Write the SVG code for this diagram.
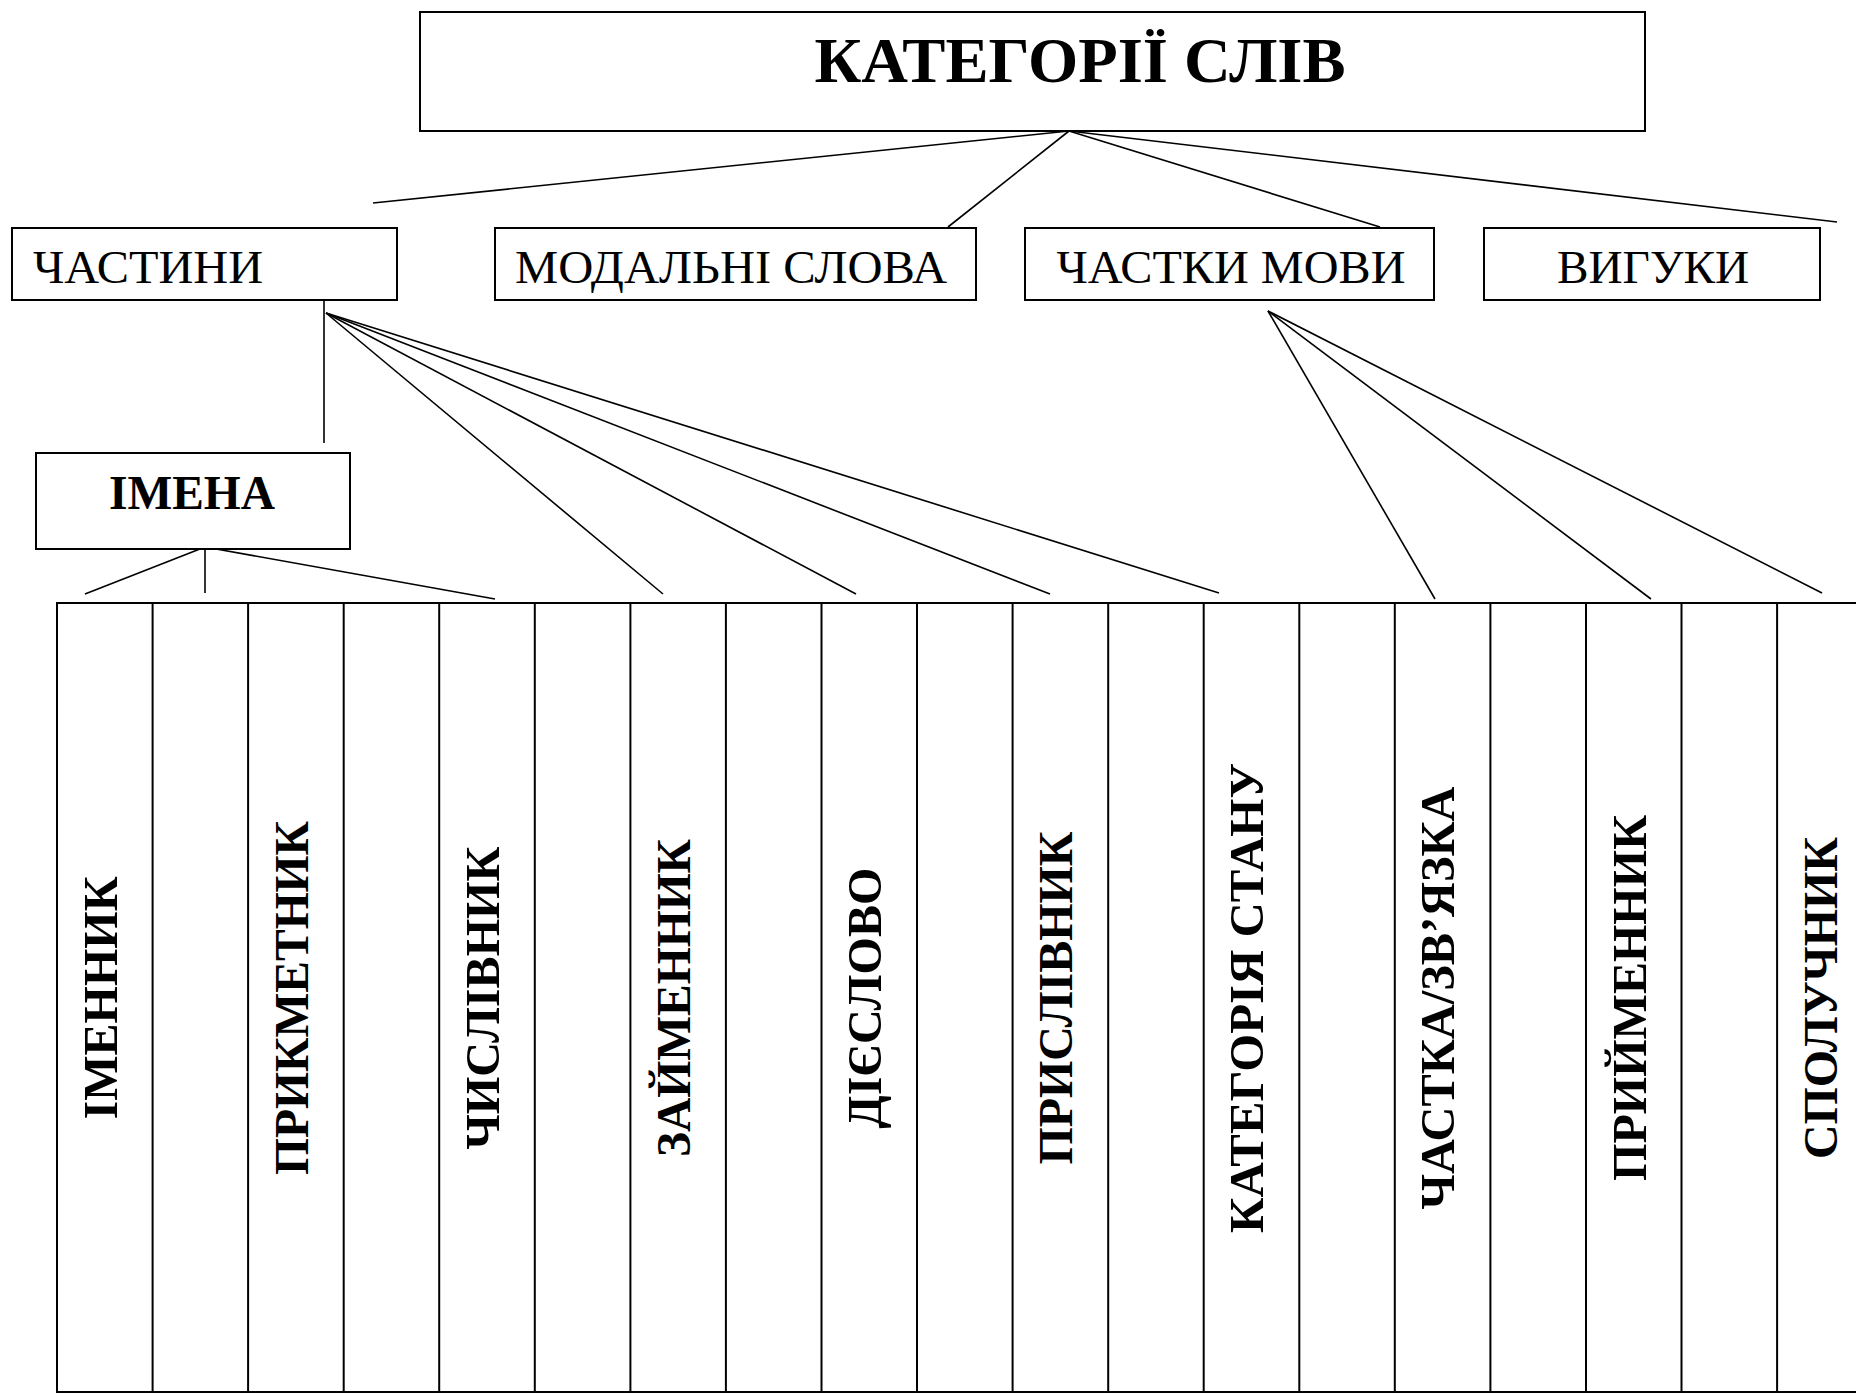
<svg xmlns="http://www.w3.org/2000/svg" width="1856" height="1394" viewBox="0 0 1856 1394">
<style>
.box{fill:#fff;stroke:#000;stroke-width:2}
.ln{stroke:#000;stroke-width:1.6;fill:none}
.tl{stroke:#000;stroke-width:2;fill:none}
.reg{font-family:"Liberation Serif","Times New Roman",serif;font-size:46px;fill:#000}
.bold{font-family:"Liberation Serif","Times New Roman",serif;font-weight:bold;fill:#000}
.vt{font-family:"Liberation Serif","Times New Roman",serif;font-weight:bold;font-size:48px;fill:#000;text-anchor:middle}
</style>
<rect width="1856" height="1394" fill="#fff"/>
<g id="connectors">
<line class="ln" x1="1069" y1="131" x2="373" y2="203"/>
<line class="ln" x1="1069" y1="131" x2="948" y2="227"/>
<line class="ln" x1="1069" y1="131" x2="1380" y2="227"/>
<line class="ln" x1="1069" y1="131" x2="1837" y2="222"/>
<line class="ln" x1="324" y1="301" x2="324" y2="443"/>
<line class="ln" x1="326" y1="313" x2="663" y2="594"/>
<line class="ln" x1="326" y1="313" x2="856" y2="594"/>
<line class="ln" x1="326" y1="313" x2="1050" y2="594"/>
<line class="ln" x1="326" y1="313" x2="1219" y2="593"/>
<line class="ln" x1="205" y1="547" x2="85" y2="594"/>
<line class="ln" x1="205" y1="547" x2="205" y2="593"/>
<line class="ln" x1="205" y1="547" x2="495" y2="599"/>
<line class="ln" x1="1268" y1="311" x2="1435" y2="599"/>
<line class="ln" x1="1268" y1="311" x2="1651" y2="599"/>
<line class="ln" x1="1268" y1="311" x2="1822" y2="593"/>
</g>
<g id="node-root">
<rect class="box" x="420" y="12" width="1225" height="119"/>
<text class="bold" x="1080" y="82" font-size="64" text-anchor="middle" textLength="531" lengthAdjust="spacingAndGlyphs">КАТЕГОРІЇ СЛІВ</text>
</g>
<g id="node-chastyny">
<rect class="box" x="12" y="228" width="385" height="72"/>
<text class="reg" x="33" y="283" textLength="230" lengthAdjust="spacingAndGlyphs">ЧАСТИНИ</text>
</g>
<g id="node-modalni">
<rect class="box" x="495" y="228" width="481" height="72"/>
<text class="reg" x="731" y="283" text-anchor="middle" textLength="432" lengthAdjust="spacingAndGlyphs">МОДАЛЬНІ СЛОВА</text>
</g>
<g id="node-chastky">
<rect class="box" x="1025" y="228" width="409" height="72"/>
<text class="reg" x="1231" y="283" text-anchor="middle" textLength="349" lengthAdjust="spacingAndGlyphs">ЧАСТКИ МОВИ</text>
</g>
<g id="node-vyguky">
<rect class="box" x="1484" y="228" width="336" height="72"/>
<text class="reg" x="1653" y="283" text-anchor="middle" textLength="192" lengthAdjust="spacingAndGlyphs">ВИГУКИ</text>
</g>
<g id="node-imena">
<rect class="box" x="36" y="453" width="314" height="96"/>
<text class="bold" x="192" y="509" font-size="48" text-anchor="middle" textLength="166" lengthAdjust="spacingAndGlyphs">ІМЕНА</text>
</g>
<g id="table">
<rect class="tl" x="57" y="603" width="1820" height="789"/>
<line class="tl" x1="152.6" y1="603" x2="152.6" y2="1392"/>
<line class="tl" x1="248.1" y1="603" x2="248.1" y2="1392"/>
<line class="tl" x1="343.7" y1="603" x2="343.7" y2="1392"/>
<line class="tl" x1="439.2" y1="603" x2="439.2" y2="1392"/>
<line class="tl" x1="534.8" y1="603" x2="534.8" y2="1392"/>
<line class="tl" x1="630.4" y1="603" x2="630.4" y2="1392"/>
<line class="tl" x1="725.9" y1="603" x2="725.9" y2="1392"/>
<line class="tl" x1="821.5" y1="603" x2="821.5" y2="1392"/>
<line class="tl" x1="917" y1="603" x2="917" y2="1392"/>
<line class="tl" x1="1012.6" y1="603" x2="1012.6" y2="1392"/>
<line class="tl" x1="1108.2" y1="603" x2="1108.2" y2="1392"/>
<line class="tl" x1="1203.7" y1="603" x2="1203.7" y2="1392"/>
<line class="tl" x1="1299.3" y1="603" x2="1299.3" y2="1392"/>
<line class="tl" x1="1394.8" y1="603" x2="1394.8" y2="1392"/>
<line class="tl" x1="1490.4" y1="603" x2="1490.4" y2="1392"/>
<line class="tl" x1="1586" y1="603" x2="1586" y2="1392"/>
<line class="tl" x1="1681.5" y1="603" x2="1681.5" y2="1392"/>
<line class="tl" x1="1777.1" y1="603" x2="1777.1" y2="1392"/>
</g>
<g id="node-imennyk"><text class="vt" transform="translate(117,998) rotate(-90)" textLength="243" lengthAdjust="spacingAndGlyphs">ІМЕННИК</text></g>
<g id="node-prykmetnyk"><text class="vt" transform="translate(308,998) rotate(-90)" textLength="354" lengthAdjust="spacingAndGlyphs">ПРИКМЕТНИК</text></g>
<g id="node-chyslivnyk"><text class="vt" transform="translate(499,998) rotate(-90)" textLength="303" lengthAdjust="spacingAndGlyphs">ЧИСЛІВНИК</text></g>
<g id="node-zaimennyk"><text class="vt" transform="translate(690,998) rotate(-90)" textLength="318" lengthAdjust="spacingAndGlyphs">ЗАЙМЕННИК</text></g>
<g id="node-dieslovo"><text class="vt" transform="translate(881,998) rotate(-90)" textLength="261" lengthAdjust="spacingAndGlyphs">ДІЄСЛОВО</text></g>
<g id="node-pryslivnyk"><text class="vt" transform="translate(1072,998) rotate(-90)" textLength="333" lengthAdjust="spacingAndGlyphs">ПРИСЛІВНИК</text></g>
<g id="node-katehoriia"><text class="vt" transform="translate(1263,998) rotate(-90)" textLength="470" lengthAdjust="spacingAndGlyphs">КАТЕГОРІЯ СТАНУ</text></g>
<g id="node-chastka"><text class="vt" transform="translate(1454,998) rotate(-90)" textLength="423" lengthAdjust="spacingAndGlyphs">ЧАСТКА/ЗВ’ЯЗКА</text></g>
<g id="node-pryimennyk"><text class="vt" transform="translate(1646,998) rotate(-90)" textLength="366" lengthAdjust="spacingAndGlyphs">ПРИЙМЕННИК</text></g>
<g id="node-spoluchnyk"><text class="vt" transform="translate(1837,998) rotate(-90)" textLength="322" lengthAdjust="spacingAndGlyphs">СПОЛУЧНИК</text></g>
</svg>
